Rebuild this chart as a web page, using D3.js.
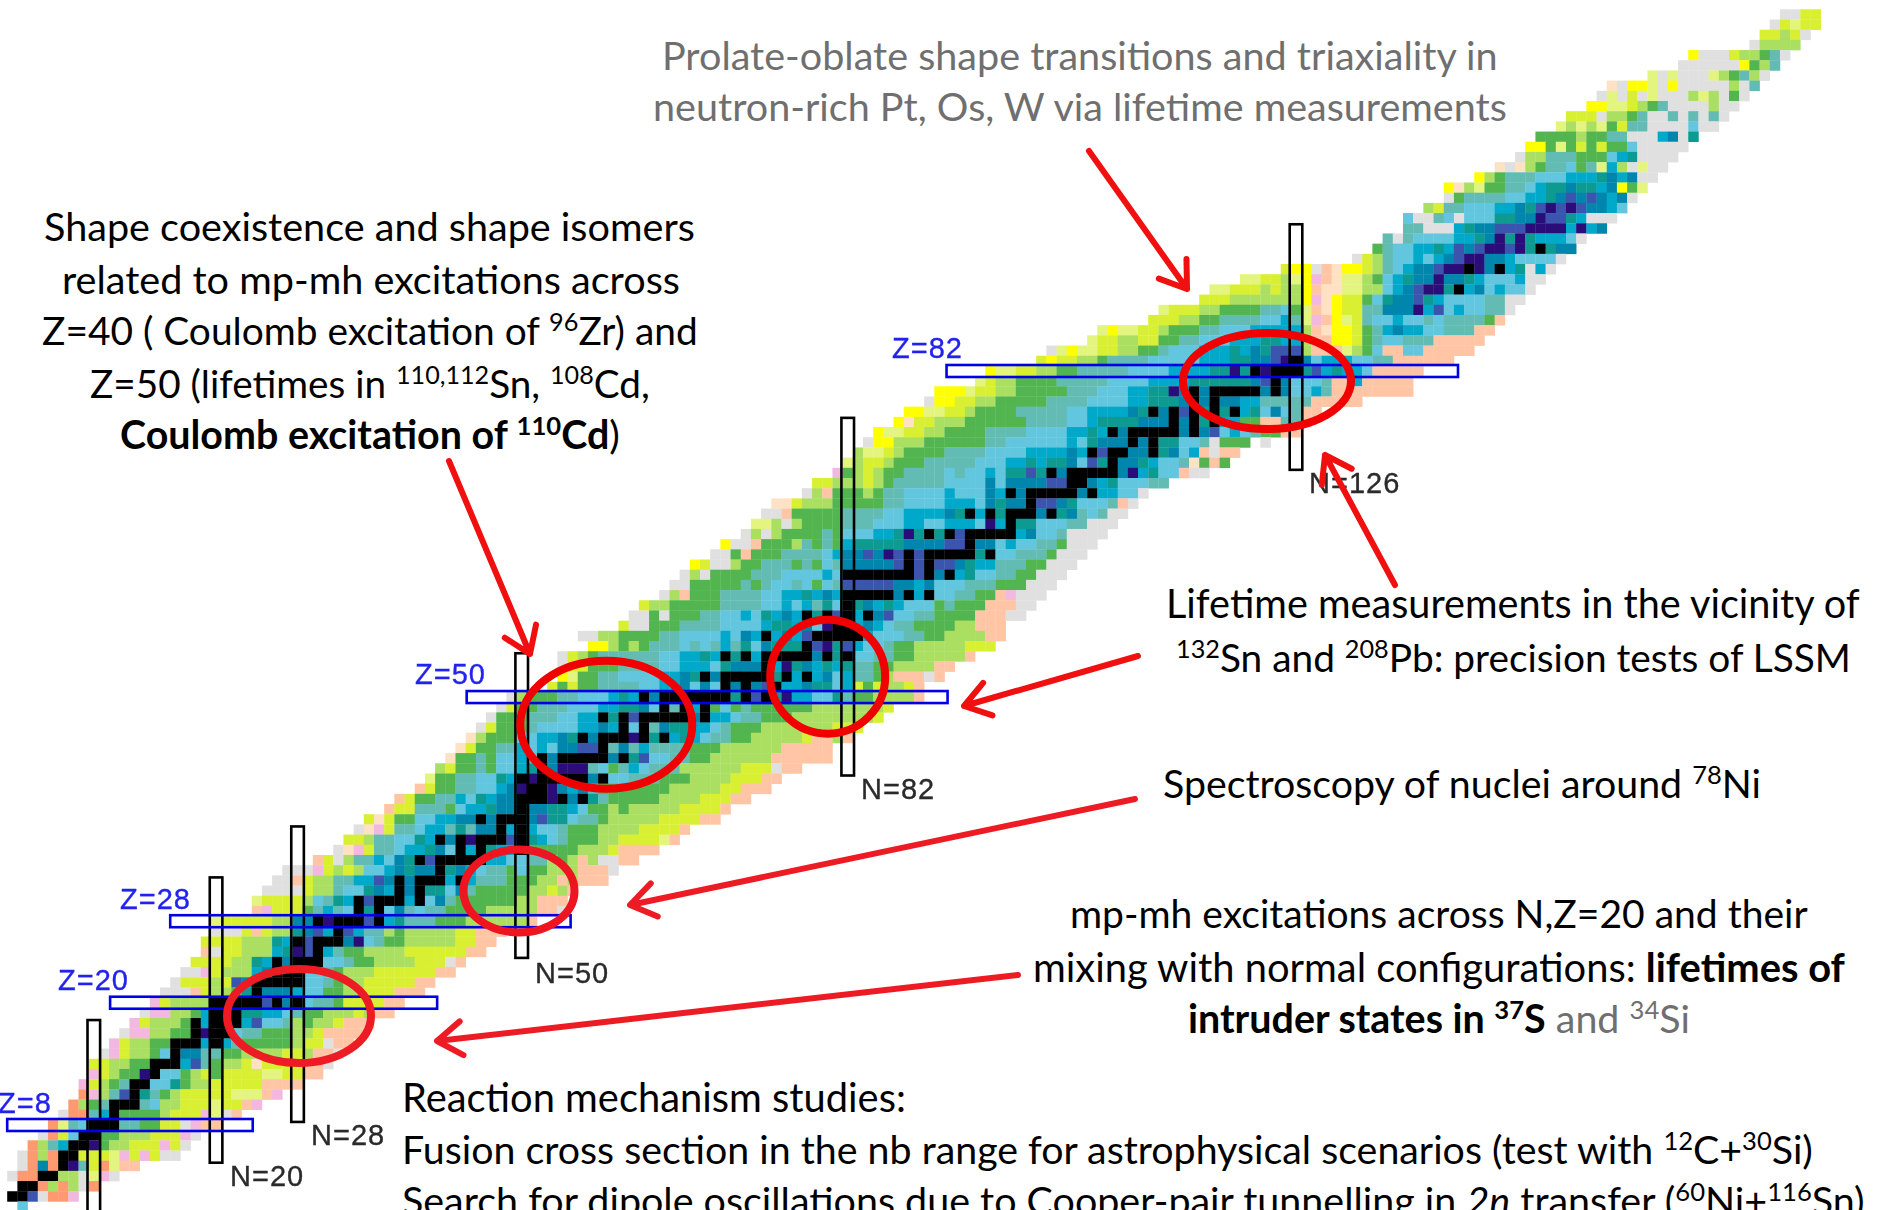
<!DOCTYPE html>
<html><head><meta charset="utf-8">
<script src="https://d3js.org/d3.v7.min.js"></script>
<style>html,body{margin:0;padding:0;background:#fff;overflow:hidden}svg{display:block}</style>
</head><body><svg id="c" width="1883" height="1210"></svg>
<script>
// Colour classes of the chart of nuclides (half-life legend classes)
const classCodes  = ["k","d","b","t","v","c","l","g","G","L","y","p","Y","o","O","P","n","w"];
const classColors = ["#000000","#2b0a78","#3b55ae","#0086ac","#0d9a90","#00a9c9","#63c6df","#62bcb4","#52b550","#abdf62","#d9f032","#e3f57f","#ffff00","#ffc5a5","#ff9a70","#f2b8e0","#ffe1c4","#e0e0e0"];
// proton number, first neutron number, run-length coded classes along the row
const nuclideRows = [
[117,174,"w2y2"],[116,173,"wypy2"],[115,172,"y2Lyw"],[114,171,"wL4"],
[113,165,"Yw3yL2Ggw"],[112,164,"w6YGLg"],[111,161,"pwpw3pLGgLw"],[110,157,"nwY2pwYw5Lwg"],
[109,156,"wpwywpw3LpLwGw"],[108,155,"Y2p2yLGgw4Lw2"],[107,153,"y3wL2Ggw2gwgwgw"],[106,152,"pLpLpGyg2w4lw2"],
[105,150,"G4LG2g2w3ctwv"],[104,149,"Y2GpGyGyG2lw5"],[103,148,"wL2g3G3lcvw4"],[102,146,"nwnLGg2lGgpcLwpw2"],
[101,144,"YLGg3l3c3vtctw2"],[100,141,"YnLpG2g2lcv2tv2ctYGp"],[99,141,"wGg4l2c2vtbtbtctw"],[98,139,"Lyg2l3c2tvbdbdbt2cl"],
[97,137,"lw2glwl3v2t2db2vcw3"],[96,137,"g2w3cvt2b3d4cdct"],[95,135,"gwgl4c2vtdvdvc3lw"],[94,134,"Ggl2c2vcbtbd2bdvkvt2"],
[93,132,"wyLgl2clctbd2t2cl4w"],[92,125,"yY2wonY2yLglct2bd2kdtkcvwcw"],[91,121,"p2y2LpYPonp2LGlcvt2dt2vcl3cw2"],[90,118,"p2y3LyL2Yon2p2L2lctbd2vkctlcl2w"],
[89,117,"y3L7YPnYy2Glvt2bvcl4g2w2"],[88,113,"py3L2G4g2lGponYy2g2t3dcblcl2g2w"],[87,112,"y3L2G2g4l2cgpPoYpygl2cl2glg4Go"],[86,107,"pYp2y2LG3g2l3c5LonY2yGgctc2l2g3o2"],
[85,106,"py2L2y2G2g2l3c3v2c2Lo2Y2yGgl2g3o5"],[84,102,"wpYp2y2L2G2gl3c3vctvb3Lo3pLGlo2l2o5"],[83,101,"yYy2L2Gg4l5c3v2t2bdktlc3l2g2o6"],[82,96,"Yp2y2L2G2g5l4c4v2dvkdk3vbcvc2lo5"],
[81,95,"pyL2G4g5l4c4v6tbktl3go2co5"],[80,91,"Y3py2L2G5g3l3c2v2dtktk5tktl2cgo8"],[79,90,"wY2y2L2G5g4l4c2v3tktkt2c2g5o5"],[78,88,"Y2p2y2LG4g5l2c4tvktkbkvkvkcvltlgo2"],
[77,87,"Yny2L3G6g4l2cv4t3ktkvkc2G2o2g2o"],[76,85,"Yp2y2L2G4g4l4c2vcktk5tktblclgG2o2"],[75,84,"wY2L3G6g2l6clvt3ktkv2l2gwG3_w"],[74,83,"Lp2yLG4g4l4c4tckbk2t2kvtlcowo2"],
[73,82,"pLy2LG3g5l3c2vcv2tlbvkt2vcl2gnGoG"],[72,81,"PGLyLG2g4lgl2clv2bvktk5tdcvl2ow2"],[71,79,"y2L3yLGg5l4tlt4b2k2tcvl3g2"],[70,78,"wLoG3LGg2l4cl3tcktk5tkc2l2w"],
[69,75,"n2yL3G5g2l4c3ltvt2kb2tvl3gow"],[68,74,"w2oG5g4l2c4tvkckvk3tkvtglgw2"],[67,73,"p2LwLG4g3l3c2l2c3ldckv2l3g2w3"],[66,72,"wLwLG4gGl3c2vdvkvkbk5ctl2gw4"],
[65,70,"Yw2oG3LgGgGcv5t4b2kt2lcl2g2Gw3"],[64,69,"w2GoG3g4lct2btdbkbk5vkl2g3Gw3"],[63,67,"Yyw2LG2g3GgGlgt5bkbkb2tvc2g3G2w3"],[62,66,"wLwG4g3l4clk7bktkcvl2g2G2w3"],
[61,65,"w2G5gGgl2glGlgb5t2ctl3g3G3w3"],[60,64,"wLoG3g4l2c2vctck5tkckl2g2G2oPw3"],[59,62,"yL2G5g4l2clcgvlkvtcvcl3GgG3o3w2"],[58,61,"w2GwG3g2l2clvctckvkbkcktbl2g2G4o3w2"],
[57,60,"yw2G3g4l4cv2ctldk2ctclg2G4L2o3"],[56,56,"w2L2G4g2l4cltckctcbk5cl3g2G2L4o2"],[55,57,"Y2LGLGg3lglgcgvltv3kbdvbcl2gG2L5y3"],[54,54,"wyLGg6l2c2vckvkck5tkvkl2g2G2L5o"],
[53,54,"wy2G3g4l2c3lvt3kcdvtcvcvg2G2L4o2"],[52,54,"YpG2g2l4c2tvktk5vkckctlcg2GLo3wo"],[51,53,"yGyG2g4l2c2tltlktktbkc2tv2lcyGyL2yo"],[50,49,"wLG3g2l3cvcktk7vkbkvdc2l2vgG2L4o"],
[49,48,"wyG2g3l3c2v2tlkgkckGlGgG6L7y"],[48,47,"wG3g3l2c2kvkbk5tkc2lg2G3L8y"],[47,46,"wyG3gl4c2tcklkgtv2c2lgG3L7y3"],[46,45,"nLG3l2c2tvktk3dkvkcvclg2G2L5yo2Lo"],
[45,44,"nyG2g2clclt2b2kgtgcg4G3L6o5"],[44,43,"nG2gGl2cgktk5tkvbl2g2G2L6o6"],[43,42,"LyG2gGl2cvktd3glGgclg3L6y3wo2"],[42,41,"pG2g2l2vckdk5tkl2g3G3L4y3o2"],
[41,40,"oyG2g2l2ctdk2dtctgG7L5y2o3"],[40,38,"oyG2g2clvct2k3dktkvgG5L4y3o2"],[39,37,"oy2g3Glc2vt2kt2v2clG2LGL5y4o"],[38,35,"ynyG2l2c2t2ktk3tbv2lg2GL5y4o2"],
[37,34,"wnPyg2lc2gvgt2kckcl2gG3L4y4o"],[36,33,"y2Lg2l2vcktkdk3bkvclgG3L2y4po"],[35,32,"wnPyg2lc2vtlkckvc2kG5L3yo4"],[34,30,"oywLg2cltvkbk5c2l2g2LGLoLw2o2"],
[33,27,"w3PyLyLl2ctvt2kvtclg2GlG2L3o3w"],[32,26,"w2oyL2g2c2btktk3ckcg3G3L2oLo3"],[31,25,"w4yL2gl2vtcktkv2ltgG5L2yLo"],[30,24,"py4Llgvckbk3ckltgG6L2o3"],
[29,24,"oPy3Ggcglkvkltglg2G4L5o2w"],[28,20,"py5L2t2kdk3bkcvg3G3L6o"],[27,20,"w3yoyL2vtbckbcg2LGL5y2o3"],[26,19,"y4L3vckbk3tdlgG2L5y2o2"],
[25,19,"owy2L3cvdbkcgG2L4y6o2"],[24,18,"y4L2vcktk3l2gG2L4y3wo"],[23,17,"w2PyL3ctk3l2gGL3y6o2"],[22,16,"wy3Lybtk5l2gGL2y5o2"],
[21,15,"w3oyL2Gvkt3cl2G2L2y3o3"],[20,14,"PyL4k5bktklg2Gy4o2"],[19,13,"wP2L2Gck3v2c2lgG2L3yLo2"],[18,12,"PyL3Gkck3cbl2gLGL2yo3"],
[17,11,"wP2L2G2kdk2lg2G3L2yo4"],[16,10,"PyL2G2k3ckcgG5Ly2wo2"],[15,9,"wPyL2Glkt2g2G2L4y2Lo2w"],[14,8,"y2L2G2k3cbgGL2yny4o2w"],
[13,8,"PyLG2dkl2GLyGy4p2y2o2"],[12,7,"PyLGgk2l2vGL2y5o4"],[11,7,"OPLgbkvgGLy5p3oP"],[10,6,"OLGgk3glL2y3py2oP"],
[9,5,"wO2gckG4Ly3Ppwo"],[8,4,"Opglk3g2G2y2wPo2"],[7,3,"wOylk2G2L3y3Pw"],[6,2,"OLgck2dGL2y3Pyw"],
[5,1,"wOLOk2y3pPyPyw2"],[4,1,"wOtOkdgyOpo2"],[3,0,"wO2k2L2wpPw"],[2,1,"k2OLOLwO"],[1,0,"k2bwO2P"],[0,1,"l"]
];
// magic numbers: [magic, from, to] — neutron bars span proton numbers, proton bands span neutron numbers
const magicNeutrons = [[8,-8,18.3],[20,4.3,32.3],[28,8.3,37.3],[50,24.4,54.3],[82,42.3,77.4],[126,72.3,96.4]];
const magicProtons  = [[8,-0.5,23.6],[20,9.6,41.7],[28,15.5,54.8],[50,44.6,91.8],[82,91.7,141.9]];

const svg = d3.select("#c");
const x = d3.scaleLinear().domain([8,126]).range([93.8,1296]);
const y = d3.scaleLinear().domain([8,82]).range([1125,371]);
const col = d3.scaleOrdinal(classCodes,classColors);
const cw = x(1)-x(0), ch = y(0)-y(1);

const defs = svg.append("defs");
defs.append("filter").attr("id","soft").attr("x",0).attr("y",0)
  .attr("filterUnits","userSpaceOnUse").attr("width",1883).attr("height",1210)
  .append("feGaussianBlur").attr("stdDeviation",0.55);

const cells = nuclideRows.flatMap(([z,n0,code])=>{
  let n=n0; const out=[];
  for(const m of code.matchAll(/([A-Za-z_])(\d*)/g)){
    const r=m[2]?+m[2]:1;
    for(let i=0;i<r;i++,n++) if(m[1]!=="_") out.push({z,n,c:m[1]});
  }
  return out;
});
const chart = svg.append("g").attr("filter","url(#soft)");
chart.append("g").selectAll("rect").data(cells).join("rect")
  .attr("x",d=>x(d.n)-cw/2).attr("y",d=>y(d.z)-ch/2)
  .attr("width",cw+0.3).attr("height",ch+0.3).attr("fill",d=>col(d.c));

chart.append("g").selectAll("rect").data(magicNeutrons).join("rect")
  .attr("x",d=>x(d[0])-6.3).attr("width",12.6)
  .attr("y",d=>y(d[2])).attr("height",d=>y(d[1])-y(d[2]))
  .attr("fill","none").attr("stroke","#000").attr("stroke-width",2.6);
chart.append("g").selectAll("rect").data(magicProtons).join("rect")
  .attr("y",d=>y(d[0])-6).attr("height",12)
  .attr("x",d=>x(d[1])).attr("width",d=>x(d[2])-x(d[1]))
  .attr("fill","none").attr("stroke","#0000e6").attr("stroke-width",2.6);

// Pixel-font style labels of the magic numbers
const magicLabels = [
 ["Z=8",-2,1113,"#2424ee"],["Z=20",58,990,"#2424ee"],["Z=28",120,909,"#2424ee"],["Z=50",415,684,"#2424ee"],["Z=82",892,358,"#2424ee"],
 ["N=20",230,1186,"#2a2a2a"],["N=28",311,1145,"#2a2a2a"],["N=50",535,983,"#2a2a2a"],["N=82",861,799,"#2a2a2a"],["N=126",1309,493,"#2a2a2a"]];
chart.append("g").selectAll("text").data(magicLabels).join("text")
  .attr("x",d=>d[1]).attr("y",d=>d[2]).attr("fill",d=>d[3]).attr("stroke",d=>d[3]).attr("stroke-width",0.35)
  .attr("font-family","Liberation Sans").attr("font-size",29).attr("letter-spacing",1)
  .text(d=>d[0]);

// Rings
const rings = [[299,1016,72,47,"#ed1c24"],[519,891,55.5,41.5,"#ee1520"],[606.3,724.7,86,64,"#f00000"],[827.7,676.7,57.5,57,"#f00000"],[1267,381,84,48,"#f00000"]];
svg.append("g").selectAll("ellipse").data(rings).join("ellipse")
  .attr("cx",d=>d[0]).attr("cy",d=>d[1]).attr("rx",d=>d[2]).attr("ry",d=>d[3])
  .attr("fill","none").attr("stroke",d=>d[4]).attr("stroke-width",8);

// Arrows: from, to, colour
const arrows = [
 [1089,151,1187,289,"#f01010"],[449,461,530,654,"#f01010"],[1138,656,964,706,"#f01010"],
 [1135,799,630,905,"#ed1c24"],[1018,975,437,1041,"#ed1c24"],[1395,585,1325,455,"#f01010"]];
const ag = svg.append("g").attr("fill","none").attr("stroke-linecap","round").attr("stroke-linejoin","round");
arrows.forEach(([x1,y1,x2,y2,c])=>{
  const a=Math.atan2(y1-y2,x1-x2), L=30, s=0.6;
  const p=d3.path();
  p.moveTo(x1,y1); p.lineTo(x2,y2);
  p.moveTo(x2+L*Math.cos(a+s),y2+L*Math.sin(a+s)); p.lineTo(x2,y2); p.lineTo(x2+L*Math.cos(a-s),y2+L*Math.sin(a-s));
  ag.append("path").attr("d",p.toString()).attr("stroke",c).attr("stroke-width",6);
});

// Text lines: runs [text, style], left, right, baseline (px)
const G="#6f6f6f";
const textLines = [
 [[["Prolate-oblate shape transitions and triaxiality in",{c:G}]],662,1498,70],
 [[["neutron-rich Pt, Os, W via lifetime measurements",{c:G}]],653,1507,121],
 [[["Shape coexistence and shape isomers"]],44,695,241],
 [[["related to mp-mh excitations across"]],62,680,294],
 [[["Z=40 ( Coulomb excitation of "],["96",{s:1}],["Zr) and"]],42,698,345],
 [[["Z=50 (lifetimes in "],["110,112",{s:1}],["Sn, "],["108",{s:1}],["Cd,"]],90,650,398],
 [[["Coulomb excitation of ",{b:1}],["110",{s:1,b:1}],["Cd",{b:1}],[")"]],120,620,449],
 [[["Lifetime measurements in the vicinity of"]],1166,1860,618],
 [[["132",{s:1}],["Sn and "],["208",{s:1}],["Pb: precision tests of LSSM"]],1176,1851,672],
 [[["Spectroscopy of nuclei around "],["78",{s:1}],["Ni"]],1163,1761,798],
 [[["mp-mh excitations across N,Z=20 and their"]],1070,1808,928],
 [[["mixing with normal configurations: "],["lifetimes of",{b:1}]],1033,1845,982],
 [[["intruder states in ",{b:1}],["37",{s:1,b:1}],["S",{b:1}],[" and ",{c:G}],["34",{s:1,c:G}],["Si",{c:G}]],1188,1690,1033],
 [[["Reaction mechanism studies:"]],402,906,1112],
 [[["Fusion cross section in the nb range for astrophysical scenarios (test with "],["12",{s:1}],["C+"],["30",{s:1}],["Si)"]],402,1813,1164],
 [[["Search for dipole oscillations due to Cooper-pair tunnelling in "],["2n",{i:1}],[" transfer ("],["60",{s:1}],["Ni+"],["116",{s:1}],["Sn)"]],402,1865,1215]
];
const tg = svg.append("g").attr("font-family","Lato").attr("fill","#000");
textLines.forEach(([runs,l,r,b])=>{
  const t=tg.append("text").attr("x",l).attr("y",b).attr("font-size",40).attr("xml:space","preserve").style("white-space","pre");
  let prevSup=false;
  runs.forEach(([s,o={}])=>{
    const sp=t.append("tspan").text(s);
    if(o.b) sp.attr("font-weight",700);
    if(o.i) sp.attr("font-style","italic");
    if(o.c) sp.attr("fill",o.c);
    if(o.s){ sp.attr("font-size","65%").attr("dy","-0.56em"); }
    else if(prevSup){ sp.attr("dy","0.364em"); }
    prevSup=!!o.s;
  });
  const w=t.node().getComputedTextLength();
  t.attr("font-size",40*(r-l)/w);
});
</script></body></html>
